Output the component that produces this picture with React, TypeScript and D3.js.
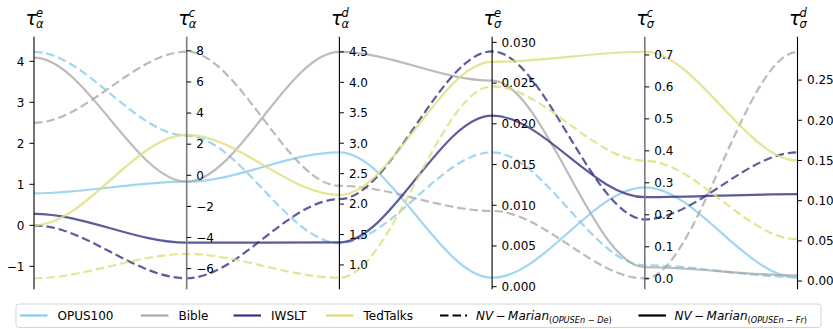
import React from "react";
import * as d3 from "d3";

const width = 833;
const height = 329;
const font = "DejaVu Sans, sans-serif";

// axis names: tau with subscript / superscript
const axisSub = ["α", "α", "α", "σ", "σ", "σ"];
const axisSup = ["e", "c", "d", "e", "c", "d"];

// y-limits of each axis as shown in the picture
const axisDomains = [
  [-1.56, 4.6],
  [-7.33, 8.91],
  [0.6, 4.75],
  [-0.00032, 0.0307],
  [-0.033, 0.757],
  [-0.0103, 0.304],
];

const axisTicks = [
  [-1, 0, 1, 2, 3, 4],
  [-6, -4, -2, 0, 2, 4, 6, 8],
  [1.0, 1.5, 2.0, 2.5, 3.0, 3.5, 4.0, 4.5],
  [0, 0.005, 0.01, 0.015, 0.02, 0.025, 0.03],
  [0, 0.1, 0.2, 0.3, 0.4, 0.5, 0.6, 0.7],
  [0, 0.05, 0.1, 0.15, 0.2, 0.25],
];
const tickDecimals = [0, 0, 1, 3, 1, 2];

const datasets = ["OPUS100", "Bible", "IWSLT", "TedTalks"];
const colors = ["#88CCEE", "#AAAAAA", "#333385", "#DDDD77"];

// NV-Marian (OPUS En-De), dashed
const deValues = [
  [4.23, 2.55, 1.36, 0.0165, 0.042, 0.005],
  [2.5, 7.95, 2.3, 0.0093, 0.001, 0.285],
  [0.0, -6.62, 2.08, 0.0289, 0.186, 0.16],
  [-1.29, -5.06, 0.79, 0.0246, 0.369, 0.052],
];
// NV-Marian (OPUS En-Fr), solid
const frValues = [
  [0.78, -0.41, 2.85, 0.0011, 0.286, 0.004],
  [4.09, -0.41, 4.5, 0.0253, 0.036, 0.007],
  [0.28, -4.33, 1.37, 0.021, 0.255, 0.108],
  [0.0, 2.6, 2.15, 0.0276, 0.71, 0.15],
];

const top = 36.7;
const bottom = 289.3;

const xScale = d3.scaleLinear().domain([0, 5]).range([34, 797.5]);
const yScales = axisDomains.map(d =>
  d3.scaleLinear().domain(d).range([bottom, top])
);

const curvePath = (vals: number[]) => {
  const p = d3.path();
  vals.forEach((v, i) => {
    const x = xScale(i);
    const y = yScales[i](v);
    if (i === 0) {
      p.moveTo(x, y);
    } else {
      const px = xScale(i - 1);
      const py = yScales[i - 1](vals[i - 1]);
      const dx = x - px;
      p.bezierCurveTo(px + dx / 3, py, px + (2 * dx) / 3, y, x, y);
    }
  });
  return p.toString();
};

const fmt = (v: number, dec: number) => {
  const s = v.toFixed(dec);
  return v < 0 ? "\u2212" + s.slice(1) : s;
};

const App = () => {
  const legendY = 315.5;
  const legendItems = datasets.map((name, i) => ({
    name,
    color: colors[i],
    x: [20, 141, 233.5, 326][i],
  }));

  return (
    <svg
      width={width}
      height={height}
      style={{ position: "absolute", left: 0, top: 0, fontFamily: font }}
    >
      <rect width={width} height={height} fill="white" />

      {/* curves */}
      {datasets.map((name, i) => (
        <g key={name} fill="none" strokeWidth={2.2} strokeOpacity={0.8}>
          <path
            d={curvePath(deValues[i])}
            stroke={colors[i]}
            strokeDasharray="8.5,4"
          />
          <path d={curvePath(frValues[i])} stroke={colors[i]} />
        </g>
      ))}

      {/* axes */}
      {axisDomains.map((d, i) => {
        const x = xScale(i);
        const left = i === 0;
        const grey = i === 1 || i === 4;
        return (
          <g key={i}>
            <line
              x1={x}
              x2={x}
              y1={top}
              y2={bottom}
              stroke={grey ? "#7a7a7a" : "#000"}
              strokeWidth={grey ? 1.6 : 1.1}
            />
            {axisTicks[i].map(t => {
              const y = yScales[i](t);
              return (
                <g key={t}>
                  <line
                    x1={x}
                    x2={left ? x - 4.5 : x + 4.5}
                    y1={y}
                    y2={y}
                    stroke="#000"
                    strokeWidth={1}
                  />
                  <text
                    x={left ? x - 9.5 : x + 9.5}
                    y={y}
                    dy="0.36em"
                    fontSize={12}
                    textAnchor={left ? "end" : "start"}
                    fill="#000"
                  >
                    {fmt(t, tickDecimals[i])}
                  </text>
                </g>
              );
            })}
            <text
              x={x - 8.5}
              y={24.5}
              fontSize={19}
              fontStyle="italic"
              fill="#000"
            >
              τ
              <tspan x={x + 2} y={17} fontSize={11.5}>
                {axisSup[i]}
              </tspan>
              <tspan x={x + 2} y={28} fontSize={11.5}>
                {axisSub[i]}
              </tspan>
            </text>
          </g>
        );
      })}

      {/* legend */}
      <rect
        x={16}
        y={304}
        width={805}
        height={23.5}
        rx={3}
        fill="white"
        fillOpacity={0.8}
        stroke="#d5d5d5"
        strokeWidth={1}
      />
      {legendItems.map(item => (
        <g key={item.name}>
          <line
            x1={item.x}
            x2={item.x + 27.5}
            y1={legendY}
            y2={legendY}
            stroke={item.color}
            strokeWidth={2.2}
          />
          <text x={item.x + 37.5} y={legendY + 4.4} fontSize={12} fill="#000">
            {item.name}
          </text>
        </g>
      ))}
      <line
        x1={440}
        x2={467}
        y1={legendY}
        y2={legendY}
        stroke="#000"
        strokeWidth={2.2}
        strokeDasharray="8.5,4"
      />
      <text x={476} y={legendY + 4.4} fontSize={12} fill="#000">
        <tspan fontStyle="italic">NV</tspan>
        <tspan>{"\u2009−\u2009"}</tspan>
        <tspan fontStyle="italic">Marian</tspan>
        <tspan fontSize={8.2} dy={2.8}>
          (<tspan fontStyle="italic">OPUSEn</tspan> − <tspan fontStyle="italic">De</tspan>)
        </tspan>
      </text>
      <line
        x1={638.5}
        x2={666}
        y1={legendY}
        y2={legendY}
        stroke="#000"
        strokeWidth={2.2}
      />
      <text x={674.5} y={legendY + 4.4} fontSize={12} fill="#000">
        <tspan fontStyle="italic">NV</tspan>
        <tspan>{"\u2009−\u2009"}</tspan>
        <tspan fontStyle="italic">Marian</tspan>
        <tspan fontSize={8.2} dy={2.8}>
          (<tspan fontStyle="italic">OPUSEn</tspan> − <tspan fontStyle="italic">Fr</tspan>)
        </tspan>
      </text>
    </svg>
  );
};

export default App;
